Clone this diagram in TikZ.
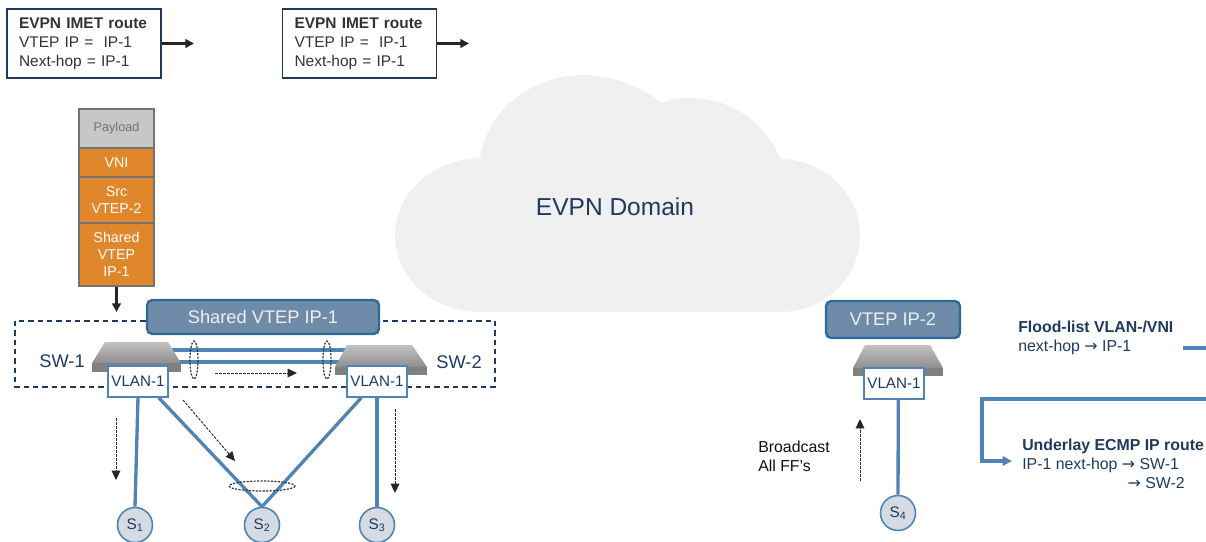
\documentclass[tikz,border=0pt]{standalone}
\usepackage{fontspec}
\setmainfont{Liberation Sans}
\newfontfamily\arrowfont{DejaVu Sans}
\newcommand{\hoparrow}{{\arrowfont →}}
\usetikzlibrary{arrows.meta}
\definecolor{navy}{HTML}{1F3A5F}
\definecolor{linkblue}{HTML}{4F84B4}
\definecolor{vtepfill}{HTML}{6E8BAA}
\definecolor{vtepedge}{HTML}{2E6A94}
\definecolor{hdrorange}{HTML}{E0872C}
\definecolor{hostfill}{HTML}{D5DBE2}
\tikzset{
  routebox/.style={draw=navy,line width=1.1pt,inner xsep=9pt,inner ysep=0pt,text width=97.5pt,minimum height=51.75pt,align=left,text=black!80,font=\fontsize{11.6}{14.25}\selectfont},
  payloadhdr/.style={draw=black!55,line width=1pt,fill=black!22,text=black!55,inner sep=0pt,minimum width=56.25pt,align=center,font=\fontsize{9.5}{12}\selectfont},
  encaphdr/.style={draw=black!55,line width=1pt,fill=hdrorange,text=white,inner sep=0pt,minimum width=56.25pt,align=center,font=\fontsize{10.7}{12.75}\selectfont},
  vtepbox/.style={draw=vtepedge,line width=1.8pt,fill=vtepfill,rounded corners=4pt,text=white!92!navy,inner sep=0pt,font=\fontsize{13.7}{16}\selectfont},
  vlanbox/.style={draw=linkblue,line width=1pt,fill=white,text=navy,inner sep=0pt,minimum width=45pt,minimum height=23.25pt,font=\fontsize{11.4}{14}\selectfont},
  hostnode/.style={draw=linkblue,line width=1.2pt,fill=hostfill,text=navy,circle,inner sep=0pt,minimum size=26.25pt,font=\fontsize{11.5}{14}\selectfont},
  link/.style={draw=linkblue,line width=2.5pt},
  lagring/.style={draw=black!80,line width=.9pt,dash pattern=on 1.6pt off 1pt},
  flowarrow/.style={draw=black!85,line width=.7pt,dash pattern=on 2pt off 1pt,-{Triangle[length=7pt,width=6.5pt]}},
  solidarrow/.style={draw=black!85,line width=1.6pt,-{Triangle[length=6.5pt,width=6.5pt]}},
  swtop/.style={top color=black!24,bottom color=black!44},
  swfront/.style={fill=black!50},
  bluetext/.style={text=navy,inner sep=0pt,font=\fontsize{13.7}{16}\selectfont},
  plaintext/.style={text=navy,inner sep=0pt,anchor=west,align=left,font=\fontsize{11.9}{14.25}\selectfont}
}
\begin{document}
\begin{tikzpicture}[x=0.75pt,y=0.75pt,yscale=-1,xscale=1]
    \useasboundingbox (0,0) rectangle (1206,542);

    %Shape: Cloud
    \fill [black!6] (480,312) .. controls (433,312) and (395,278) .. (395,235) .. controls (395,193) and (433,159) .. (480,158) .. controls (487,112) and (530,75) .. (583,75) .. controls (612,75) and (640,86) .. (662,103) .. controls (671,99) and (680,98) .. (690,98) .. controls (732,98) and (767,124) .. (780,159) .. controls (825,159) and (860,195) .. (860,235) .. controls (860,278) and (825,312) .. (780,312) -- cycle ;
    \node (domain) [text=navy,inner sep=0pt,font=\fontsize{18.4}{22}\selectfont] at (615,207) {EVPN Domain};

    % Route boxes
    \node (imeta) [routebox] at (84,43.5) {\mbox{\textbf{EVPN IMET route}}\\VTEP IP = \ IP-1\\Next-hop = IP-1};
    \node (imetb) [routebox] at (359.5,43.5) {\mbox{\textbf{EVPN IMET route}}\\VTEP IP = \ IP-1\\Next-hop = IP-1};
    \coordinate (imetaend) at (194,43.5);
    \coordinate (imetbend) at (469,43.5);
    \draw [solidarrow] (imeta.east) -- (imetaend);
    \draw [solidarrow] (imetb.east) -- (imetbend);

    % Packet headers
    \node (payload) [payloadhdr,minimum height=29.25pt] at (116.5,128.5) {Payload};
    \node (vni) [encaphdr,minimum height=21.75pt] at (116.5,162.5) {VNI};
    \node (srcvtep) [encaphdr,minimum height=34.5pt] at (116.5,200) {Src\\VTEP-2};
    \node (dstvtep) [encaphdr,minimum height=47.25pt] at (116.5,254.5) {Shared\\VTEP\\IP-1};
    \coordinate (dstend) at (116.5,312);
    \draw [solidarrow] (dstvtep.south) -- (dstend);

    %Shape: Rectangle
    \draw [navy,line width=1pt,dash pattern=on 4pt off 3pt] (15,321) rectangle (495,387);
    \node (sharedvtep) [vtepbox,minimum width=174pt,minimum height=25.5pt] at (263,317) {Shared VTEP IP-1};
    \node (swalabel) [bluetext] at (62,361) {SW-1};
    \node (swblabel) [bluetext] at (459,362) {SW-2};

    % Peer links
    \coordinate (peeraa) at (168,350);
    \coordinate (peerab) at (350,350);
    \coordinate (peerba) at (175,362);
    \coordinate (peerbb) at (345,362);
    \draw [link] (peeraa) -- (peerab);
    \draw [link] (peerba) -- (peerbb);

    %Shape: Switch
    \shade [swtop] (105,342) -- (168,342) -- (181,363) -- (92,363) -- cycle ;
    \fill [swfront] (92,363) rectangle (181,372);
    \shade [swtop] (347,345) -- (412,345) -- (427,367) -- (335,367) -- cycle ;
    \fill [swfront] (335,367) rectangle (427,375);
    \shade [swtop] (865,345) -- (930,345) -- (943,368) -- (853,368) -- cycle ;
    \fill [swfront] (853,368) rectangle (943,376);

    \node (vlana) [vlanbox] at (138,381.5) {VLAN-1};
    \node (vlanb) [vlanbox] at (377,381.5) {VLAN-1};
    \node (vlanc) [vlanbox] at (894,383.5) {VLAN-1};
    \node (vtepb) [vtepbox,minimum width=100.5pt,minimum height=27.75pt] at (893,319.5) {VTEP IP-2};

    % Hosts
    \node (sa) [hostnode] at (135,525) {S\textsubscript{1}};
    \node (sb) [hostnode] at (262,525) {S\textsubscript{2}};
    \node (sc) [hostnode] at (377,525) {S\textsubscript{3}};
    \node (sd) [hostnode] at (898,513) {S\textsubscript{4}};
    \draw [link] (vlana.south) -- (sa.north);
    \draw [link] (vlana.-38) -- (sb.north);
    \draw [link] (vlanb.-134) -- (sb.north);
    \draw [link] (vlanb.south) -- (sc.north);
    \draw [link] (vlanc.-75) -- (sd.north);

    %Shape: Ellipse
    \draw [lagring] (194,360) ellipse (4 and 19);
    \draw [lagring] (327,360) ellipse (4 and 19);
    \draw [lagring] (262,486) ellipse (33 and 5);

    % Traffic direction
    \coordinate (flowa) at (215,373);
    \coordinate (flowb) at (297,373);
    \coordinate (flowc) at (116,418);
    \coordinate (flowd) at (116,480);
    \coordinate (flowe) at (183,400);
    \coordinate (flowf) at (235,461);
    \coordinate (flowg) at (395,409);
    \coordinate (flowh) at (395,493);
    \coordinate (flowi) at (860,481);
    \coordinate (flowj) at (860,419);
    \draw [flowarrow] (flowa) -- (flowb);
    \draw [flowarrow] (flowc) -- (flowd);
    \draw [flowarrow] (flowe) -- (flowf);
    \draw [flowarrow] (flowg) -- (flowh);
    \draw [flowarrow] (flowi) -- (flowj);

    % Text Node
    \node (bcast) [plaintext,text=black!70!navy] at (758,456) {Broadcast\\All FF's};
    % Text Node
    \node (flood) [plaintext] at (1018,337.5) {\textbf{Flood-list VLAN-/VNI}\\next-hop \hoparrow{} IP-1};
    % Text Node
    \node (underlay) [plaintext] at (1022,464) {\textbf{Underlay ECMP IP route}\\IP-1 next-hop \hoparrow{} SW-1\\\hspace*{79pt}\hoparrow{} SW-2};

    % Flood list to underlay
    \coordinate (floodend) at (1183,348);
    \coordinate (floodout) at (1206,348);
    \coordinate (bendin) at (1206,399);
    \coordinate (bendcorner) at (982,399);
    \coordinate (bendend) at (1012,461);
    \draw [link] (floodend) -- (floodout);
    \draw [link,-{Triangle[length=7pt,width=7pt]}] (bendin) -- (bendcorner) |- (bendend);
\end{tikzpicture}
\end{document}
